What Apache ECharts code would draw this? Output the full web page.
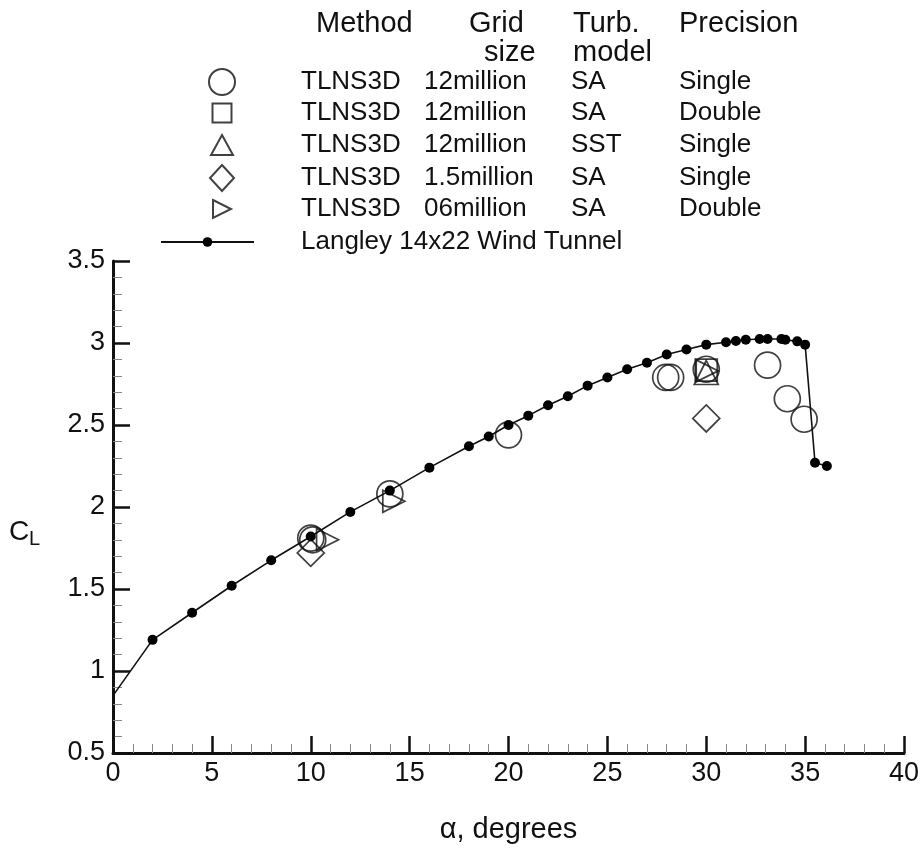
<!DOCTYPE html>
<html>
<head>
<meta charset="utf-8">
<script src="https://cdn.jsdelivr.net/npm/echarts@6/dist/echarts.min.js"></script>
<style>
  html, body { margin: 0; padding: 0; background: #fff; }
  #chart { width: 923px; height: 856px; }
</style>
</head>
<body>
<div id="chart"></div>
<script>
// Lift coefficient vs angle of attack: TLNS3D computations and tunnel data
const FONT = '"Liberation Sans", Arial, Helvetica, sans-serif';

// Langley 14x22 Wind Tunnel measurements
const tunnelAlpha = [0, 2, 4, 6, 8, 10, 12, 14, 16, 18, 19, 20, 21, 22, 23, 24, 25, 26, 27, 28, 29, 30,
  31, 31.5, 32, 32.7, 33.1, 33.8, 34, 34.6, 35, 35.5, 36.1];
const tunnelCL = [0.85, 1.19, 1.355, 1.52, 1.675, 1.82, 1.97, 2.10, 2.24, 2.37, 2.43, 2.50, 2.557, 2.62, 2.675,
  2.74, 2.79, 2.84, 2.88, 2.93, 2.96, 2.99, 3.005, 3.012, 3.02, 3.024, 3.024, 3.024, 3.02, 3.01, 2.99, 2.27, 2.25];

// TLNS3D results: [alpha, CL]
const sa12Single = [[10, 1.81], [10.1, 1.80], [14, 2.08], [20, 2.44], [27.95, 2.79], [28.2, 2.79],
  [30, 2.84], [33.1, 2.865], [34.1, 2.66], [34.95, 2.535]];
const sa12Double = [[30, 2.835]];
const sst12Single = [[30, 2.82]];
const sa15Single = [[10, 1.72], [30, 2.54]];
const sa06Double = [[10.85, 1.80], [14.2, 2.035], [30.05, 2.83]];

// Legend table columns
const methods = ['TLNS3D', 'TLNS3D', 'TLNS3D', 'TLNS3D', 'TLNS3D'];
const gridSizes = ['12million', '12million', '12million', '1.5million', '06million'];
const turbModels = ['SA', 'SA', 'SST', 'SA', 'SA'];
const precisions = ['Single', 'Double', 'Single', 'Single', 'Double'];
const tunnelName = 'Langley 14x22 Wind Tunnel';

const xTicks = { min: 0, max: 40, interval: 5 };
const yTicks = { min: 0.5, max: 3.5, interval: 0.5 };

const seriesNames = methods.map((m, i) => [m, gridSizes[i], turbModels[i], precisions[i]].join('|'));

const rightTri = 'path://M0,0 L10,5 L0,10 Z';
const hollow = { color: 'rgba(255,255,255,0)', borderColor: '#111', borderWidth: 1.7 };

// marker shapes, plot sizes and legend icon sizes for each TLNS3D run
const runSymbols = ['circle', 'rect', 'triangle', 'diamond', rightTri];
const runSizes = [26, 22, 24, 27, 22];
const legendIcon = [[26, 26], [19, 19], [22, 20], [24, 26], [18, 20]];
const runData = [sa12Single, sa12Double, sst12Single, sa15Single, sa06Double];

function scatter(i) {
  return {
    name: seriesNames[i], type: 'scatter', data: runData[i],
    symbol: runSymbols[i], symbolSize: runSizes[i],
    itemStyle: hollow, z: 3, silent: true
  };
}

const tunnelData = tunnelAlpha.map((a, i) => i === 0
  ? { value: [a, tunnelCL[i]], symbol: 'none' }
  : [a, tunnelCL[i]]);

const TXT = 26;
const HEAD = 29;
const colRich = {
  m: { width: 123, fontSize: TXT, fontFamily: FONT, color: '#111' },
  g: { width: 147, fontSize: TXT, fontFamily: FONT, color: '#111' },
  t: { width: 108, fontSize: TXT, fontFamily: FONT, color: '#111' },
  p: { fontSize: TXT, fontFamily: FONT, color: '#111' }
};

// one legend row per run so every icon keeps its own size
const iconCenterX = 221, textStartX = 300, rowCenters = [80, 112, 144, 176, 208];
const runLegends = seriesNames.map((name, i) => {
  const w = legendIcon[i][0], h = legendIcon[i][1];
  const left = iconCenterX - w / 2;
  return {
    data: [name], orient: 'vertical', left: left, top: rowCenters[i] - 12,
    padding: 0, itemWidth: w, itemHeight: h, selectedMode: false,
    formatter: function (n) {
      const c = n.split('|');
      return '{m|' + c[0] + '}{g|' + c[1] + '}{t|' + c[2] + '}{p|' + c[3] + '}';
    },
    textStyle: { rich: colRich, padding: [0, 0, 0, textStartX - (left + w + 5)] }
  };
});

const chart = echarts.init(document.getElementById('chart'), null, { renderer: 'canvas' });

const header = (text, left, top) => ({
  type: 'text', left: left, top: top,
  style: { text: text, font: HEAD + 'px ' + FONT, fill: '#111' }
});

chart.setOption({
  animation: false,
  backgroundColor: '#fff',
  grid: { left: 113, right: 19, top: 261, bottom: 103, containLabel: false },
  xAxis: {
    type: 'value', min: xTicks.min, max: xTicks.max, interval: xTicks.interval,
    name: 'α, degrees', nameLocation: 'middle', nameGap: 62,
    nameTextStyle: { fontSize: 29, fontFamily: FONT, color: '#111' },
    axisLine: { show: true, lineStyle: { color: '#111', width: 3 } },
    axisTick: { show: true, inside: true, length: 17, lineStyle: { color: '#111', width: 2.5 } },
    minorTick: { show: true, splitNumber: 5, length: 9, lineStyle: { color: '#888', width: 1 } },
    axisLabel: { fontSize: 27, fontFamily: FONT, color: '#111', margin: 7 },
    splitLine: { show: false }
  },
  yAxis: {
    type: 'value', min: yTicks.min, max: yTicks.max, interval: yTicks.interval,
    axisLine: { show: true, lineStyle: { color: '#111', width: 3 } },
    axisTick: { show: true, inside: true, length: 17, lineStyle: { color: '#111', width: 2.5 } },
    minorTick: { show: true, splitNumber: 5, length: 9, lineStyle: { color: '#888', width: 1 } },
    axisLabel: { fontSize: 27, fontFamily: FONT, color: '#111', margin: 8 },
    splitLine: { show: false }
  },
  legend: runLegends.concat([{
    data: [tunnelName], orient: 'vertical', left: 160, top: 241 - 12,
    padding: 0, itemWidth: 93, itemHeight: 12, selectedMode: false,
    textStyle: { fontSize: TXT, fontFamily: FONT, color: '#111', padding: [0, 0, 0, textStartX - (160 + 93 + 5)] }
  }]),
  graphic: [
    header('Method', 316, 9),
    header('Grid', 469, 9),
    header('size', 484, 38),
    header('Turb.', 573, 9),
    header('model', 573, 38),
    header('Precision', 679, 9),
    { type: 'text', left: 9, top: 518, style: { text: 'C', font: '28px ' + FONT, fill: '#111' } },
    { type: 'text', left: 29, top: 529, style: { text: 'L', font: '20px ' + FONT, fill: '#111' } }
  ],
  series: [0, 1, 2, 3, 4].map(scatter).concat([{
    name: tunnelName, type: 'line', data: tunnelData,
    symbol: 'circle', symbolSize: 10, showSymbol: true,
    itemStyle: { color: '#000' },
    lineStyle: { color: '#111', width: 1.6 },
    z: 4, silent: true
  }])
});
</script>
</body>
</html>
